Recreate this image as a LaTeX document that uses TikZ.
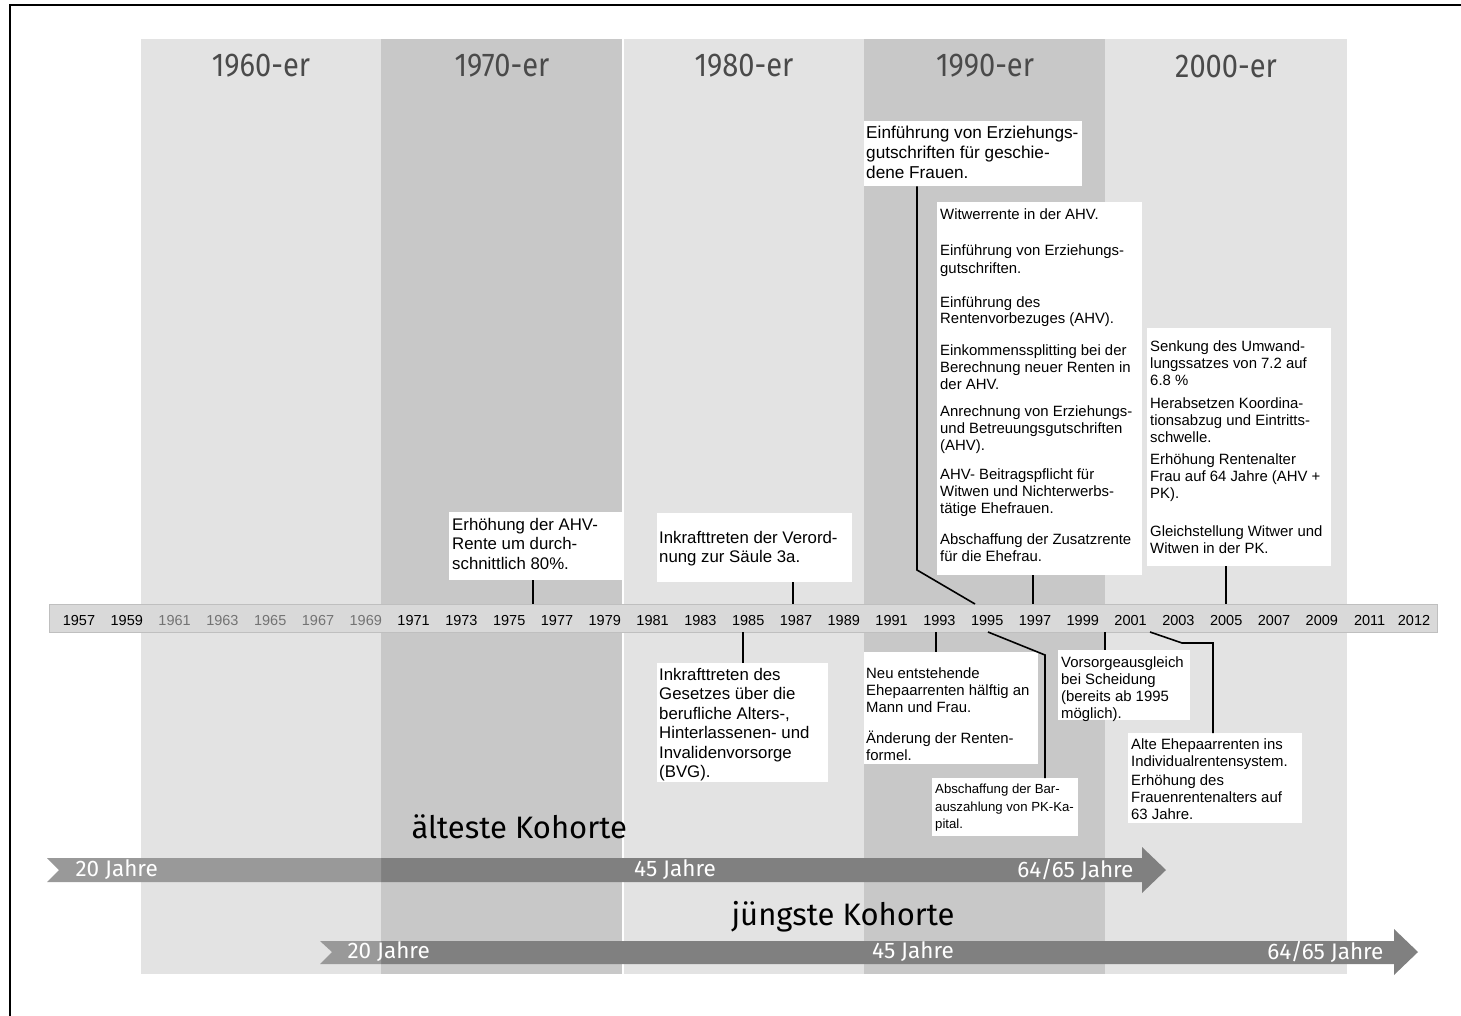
\documentclass[tikz,border=0pt]{standalone}
\usepackage{fontspec}
\setmainfont{Liberation Sans}
\newfontfamily\decfont[FakeStretch=0.88]{Fira Sans}
\newfontfamily\kohfont{Fira Sans}
\definecolor{bandlight}{HTML}{E3E3E3}
\definecolor{banddark}{HTML}{C8C8C8}
\definecolor{barfill}{HTML}{D9D9D9}
\definecolor{arrowdark}{HTML}{808080}
\definecolor{arrowlight}{HTML}{999999}
\definecolor{headgray}{HTML}{4A4A4A}
\tikzset{
  box/.style={fill=white, anchor=north west, inner sep=0},
  bigtext/.style={anchor=north west, inner sep=0, align=left, font=\fontsize{16.8}{19.5}\selectfont},
  smalltext/.style={anchor=north west, inner sep=0, align=left, font=\fontsize{14.9}{17}\selectfont},
  link/.style={line width=1.6pt},
  year/.style={font=\fontsize{14.5}{15}\selectfont},
  decade/.style={font=\decfont\fontsize{33}{33}\selectfont, text=headgray},
  kohorte/.style={font=\kohfont\fontsize{31}{31}\selectfont, anchor=west},
  age/.style={font=\kohfont\fontsize{22.5}{22.5}\selectfont, text=white}
}
\begin{document}
\begin{tikzpicture}[x=1pt, y=-1pt]
    \useasboundingbox (0,0) rectangle (1461,1016);
    \draw[line width=2.2pt] (10,1016) -- (10,5) -- (1461,5);

    \fill[bandlight] (141,39) rectangle (381,974);
    \fill[banddark] (381,39) rectangle (622,974);
    \fill[bandlight] (624,39) rectangle (864,974);
    \fill[banddark] (864,39) rectangle (1105,974);
    \fill[bandlight] (1105,39) rectangle (1347,974);
    \node[decade] (d60) at (261,66) {1960-er};
    \node[decade] (d70) at (502,66) {1970-er};
    \node[decade] (d80) at (744,66) {1980-er};
    \node[decade] (d90) at (985,66) {1990-er};
    \node[decade] (d00) at (1226,66) {2000-er};

    \fill[barfill, draw=black!25, line width=0.6pt] (49,604) rectangle (1437,632);
    \foreach \yr in {1957,1959,1971,1973,...,2011}
        \node[year] (y\yr) at ({79+(\yr-1957)*23.9},621) {\yr};
    \foreach \yr in {1961,1963,...,1969}
        \node[year, text=black!55] (y\yr) at ({79+(\yr-1957)*23.9},621) {\yr};
    \node[year] (y2012) at (1414,621) {2012};

    \coordinate (c1976) at (533,604);
    \coordinate (c1987) at (793,604);
    \coordinate (c1995) at (975,604);
    \coordinate (c1997) at (1033,604);
    \coordinate (c2005) at (1226,604);
    \coordinate (d1985) at (743,632);
    \coordinate (d1993) at (936,632);
    \coordinate (d1995) at (988,632);
    \coordinate (d2000) at (1105,632);
    \coordinate (d2001) at (1150,632);
    \coordinate (k1) at (917,570);
    \coordinate (k2) at (1045,655);
    \coordinate (k3) at (1182,643);
    \coordinate (k4) at (1213,643);

    \node[box, minimum width=174pt, minimum height=68pt] (b1) at (449,512) {};
    \node[box, minimum width=195pt, minimum height=69pt] (b2) at (657,513) {};
    \node[box, minimum width=171pt, minimum height=119pt] (b3) at (657,663) {};
    \node[box, minimum width=218pt, minimum height=65pt] (b4) at (864,121) {};
    \node[box, minimum width=205pt, minimum height=373pt] (b5) at (937,202) {};
    \node[box, minimum width=184pt, minimum height=238pt] (b6) at (1147,328) {};
    \node[box, minimum width=174pt, minimum height=112pt] (b7) at (864,652) {};
    \node[box, minimum width=146pt, minimum height=58pt] (b8) at (932,778) {};
    \node[box, minimum width=132pt, minimum height=70pt] (b9) at (1058,650) {};
    \node[box, minimum width=174pt, minimum height=90pt] (b10) at (1128,733) {};

    \draw[link] (b1.south -| c1976) -- (c1976);
    \draw[link] (b2.south -| c1987) -- (c1987);
    \draw[link] (d1985) -- (d1985 |- b3.north);
    \draw[link] (b4.south -| k1) -- (k1) -- (c1995);
    \draw[link] (b5.south -| c1997) -- (c1997);
    \draw[link] (b6.south -| c2005) -- (c2005);
    \draw[link] (d1993) -- (d1993 |- b7.north);
    \draw[link] (d1995) -- (k2) -- (k2 |- b8.north);
    \draw[link] (d2000) -- (d2000 |- b9.north);
    \draw[link] (d2001) -- (k3) -- (k4) -- (k4 |- b10.north);

    \node[bigtext] (t1) at (452,518) {Erhöhung der AHV-\\Rente um durch-\\schnittlich 80\%.};
    \node[bigtext] (t2) at (659,531) {Inkrafttreten der Verord-\\nung zur Säule 3a.};
    \node[bigtext] (t3) at (659,668) {Inkrafttreten des\\Gesetzes über die\\berufliche Alters-,\\Hinterlassenen- und\\Invalidenvorsorge\\(BVG).};
    \node[bigtext, font=\fontsize{17.2}{20}\selectfont] (t4) at (866,126) {Einführung von Erziehungs-\\gutschriften für geschie-\\dene Frauen.};
    \node[smalltext] (t5) at (940,208) {Witwerrente in der AHV.\\[20pt]
        Einführung von Erziehungs-\\gutschriften.\\[17pt]
        Einführung des\\Rentenvorbezuges (AHV).\\[14pt]
        Einkommenssplitting bei der\\Berechnung neuer Renten in\\der AHV.\\[10pt]
        Anrechnung von Erziehungs-\\und Betreuungsgutschriften\\(AHV).\\[12pt]
        AHV- Beitragspflicht für\\Witwen und Nichterwerbs-\\tätige Ehefrauen.\\[14pt]
        Abschaffung der Zusatzrente\\für die Ehefrau.};
    \node[smalltext] (t6) at (1150,340) {Senkung des Umwand-\\lungssatzes von 7.2 auf\\6.8 \%\\[6pt]
        Herabsetzen Koordina-\\tionsabzug und Eintritts-\\schwelle.\\[5pt]
        Erhöhung Rentenalter\\Frau auf 64 Jahre (AHV +\\PK).\\[21pt]
        Gleichstellung Witwer und\\Witwen in der PK.};
    \node[smalltext] (t7) at (866,667) {Neu entstehende\\Ehepaarrenten hälftig an\\Mann und Frau.\\[14pt]
        Änderung der Renten-\\formel.};
    \node[smalltext, font=\fontsize{13.2}{17.5}\selectfont] (t8) at (935,784) {Abschaffung der Bar-\\auszahlung von PK-Ka-\\pital.};
    \node[smalltext] (t9) at (1061,656) {Vorsorgeausgleich\\bei Scheidung\\(bereits ab 1995\\möglich).};
    \node[smalltext] (t10) at (1131,738) {Alte Ehepaarrenten ins\\Individualrentensystem.\\[2pt]
        Erhöhung des\\Frauenrentenalters auf\\63 Jahre.};

    \fill[arrowdark] (381,858) -- (1142,858) -- (1142,847) -- (1166,870) -- (1142,893) -- (1142,882) -- (381,882) -- cycle;
    \fill[arrowlight] (47,858) -- (381,858) -- (381,882) -- (47,882) -- (59,870) -- cycle;
    \fill[arrowdark] (381,941) -- (1394,941) -- (1394,929) -- (1418,952) -- (1394,975) -- (1394,964) -- (381,964) -- cycle;
    \fill[arrowlight] (320,941) -- (381,941) -- (381,964) -- (320,964) -- (332,952) -- cycle;
    \node[kohorte] (alt) at (408,827) {älteste Kohorte};
    \node[kohorte] (jung) at (728,917) {jüngste Kohorte};
    \node[age, anchor=west] (a1) at (72,870) {20 Jahre};
    \node[age] (a2) at (675,870) {45 Jahre};
    \node[age, anchor=east] (a3) at (1137,870) {64/65 Jahre};
    \node[age, anchor=west] (a4) at (344,952) {20 Jahre};
    \node[age] (a5) at (913,952) {45 Jahre};
    \node[age, anchor=east] (a6) at (1387,952) {64/65 Jahre};
\end{tikzpicture}
\end{document}
